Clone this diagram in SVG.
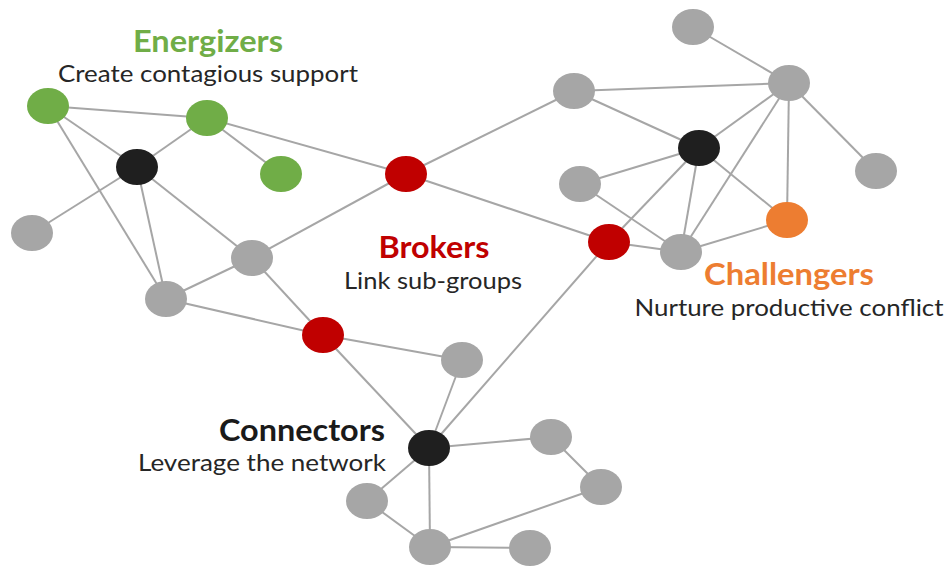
<svg xmlns="http://www.w3.org/2000/svg" width="948" height="566" viewBox="0 0 948 566">
<style>
.e{stroke:#a6a6a6;stroke-width:2;fill:none}
.n{stroke:none}
.g{fill:#a6a6a6}
.gr{fill:#70ad47}
.rd{fill:#c00000}
.or{fill:#ed7d31}
.bk{fill:#1f1f1f}
.h{font-family:Lato,"Open Sans","Liberation Sans",sans-serif;font-weight:bold;font-size:30px}
.s{font-family:Lato,"Open Sans","Liberation Sans",sans-serif;font-size:24px;fill:#262626}
</style>
<rect width="948" height="566" fill="#ffffff"/>
<g id="connectors" class="e">
<line x1="48" y1="106" x2="207" y2="118"/>
<line x1="48" y1="106" x2="137" y2="167"/>
<line x1="48" y1="106" x2="166" y2="299"/>
<line x1="207" y1="118" x2="137" y2="167"/>
<line x1="207" y1="118" x2="281" y2="174"/>
<line x1="207" y1="118" x2="406" y2="174"/>
<line x1="137" y1="167" x2="32" y2="233"/>
<line x1="137" y1="167" x2="166" y2="299"/>
<line x1="137" y1="167" x2="252" y2="258"/>
<line x1="252" y1="258" x2="166" y2="299"/>
<line x1="252" y1="258" x2="406" y2="174"/>
<line x1="252" y1="258" x2="323" y2="335"/>
<line x1="166" y1="299" x2="323" y2="335"/>
<line x1="406" y1="174" x2="574" y2="91"/>
<line x1="406" y1="174" x2="609" y2="242"/>
<line x1="323" y1="335" x2="462" y2="360"/>
<line x1="323" y1="335" x2="429" y2="448"/>
<line x1="429" y1="448" x2="462" y2="360"/>
<line x1="429" y1="448" x2="609" y2="242"/>
<line x1="429" y1="448" x2="551" y2="437"/>
<line x1="429" y1="448" x2="367" y2="501"/>
<line x1="429" y1="448" x2="430" y2="547"/>
<line x1="551" y1="437" x2="601" y2="487"/>
<line x1="601" y1="487" x2="430" y2="547"/>
<line x1="367" y1="501" x2="430" y2="547"/>
<line x1="430" y1="547" x2="530" y2="548"/>
<line x1="693" y1="27" x2="789" y2="83"/>
<line x1="574" y1="91" x2="789" y2="83"/>
<line x1="574" y1="91" x2="699" y2="148"/>
<line x1="789" y1="83" x2="699" y2="148"/>
<line x1="789" y1="83" x2="876" y2="171"/>
<line x1="789" y1="83" x2="787" y2="220"/>
<line x1="789" y1="83" x2="681" y2="252"/>
<line x1="699" y1="148" x2="580" y2="184"/>
<line x1="699" y1="148" x2="609" y2="242"/>
<line x1="699" y1="148" x2="681" y2="252"/>
<line x1="699" y1="148" x2="787" y2="220"/>
<line x1="580" y1="184" x2="681" y2="252"/>
<line x1="609" y1="242" x2="681" y2="252"/>
<line x1="681" y1="252" x2="787" y2="220"/>
</g>
<g id="energizer1"><ellipse class="n gr" cx="48" cy="106" rx="21" ry="18"/></g>
<g id="energizer2"><ellipse class="n gr" cx="207" cy="118" rx="21" ry="18"/></g>
<g id="energizer3"><ellipse class="n gr" cx="281" cy="174" rx="21" ry="18"/></g>
<g id="hubLeft"><ellipse class="n bk" cx="137" cy="167" rx="21" ry="18"/></g>
<g id="grayLeft"><ellipse class="n g" cx="32" cy="233" rx="21" ry="18"/></g>
<g id="grayMid"><ellipse class="n g" cx="252" cy="258" rx="21" ry="18"/></g>
<g id="grayLow"><ellipse class="n g" cx="166" cy="299" rx="21" ry="18"/></g>
<g id="broker1"><ellipse class="n rd" cx="406" cy="174" rx="21" ry="18"/></g>
<g id="broker2"><ellipse class="n rd" cx="323" cy="335" rx="21" ry="18"/></g>
<g id="broker3"><ellipse class="n rd" cx="609" cy="242" rx="21" ry="18"/></g>
<g id="connector"><ellipse class="n bk" cx="429" cy="448" rx="21" ry="18"/></g>
<g id="gray460"><ellipse class="n g" cx="462" cy="360" rx="21" ry="18"/></g>
<g id="gray551"><ellipse class="n g" cx="551" cy="437" rx="21" ry="18"/></g>
<g id="gray601"><ellipse class="n g" cx="601" cy="487" rx="21" ry="18"/></g>
<g id="gray367"><ellipse class="n g" cx="367" cy="501" rx="21" ry="18"/></g>
<g id="gray430"><ellipse class="n g" cx="430" cy="547" rx="21" ry="18"/></g>
<g id="gray530"><ellipse class="n g" cx="530" cy="548" rx="21" ry="18"/></g>
<g id="grayTop"><ellipse class="n g" cx="693" cy="27" rx="21" ry="18"/></g>
<g id="grayHub"><ellipse class="n g" cx="789" cy="83" rx="21" ry="18"/></g>
<g id="grayTL"><ellipse class="n g" cx="574" cy="91" rx="21" ry="18"/></g>
<g id="hubRight"><ellipse class="n bk" cx="699" cy="148" rx="21" ry="18"/></g>
<g id="grayRight"><ellipse class="n g" cx="876" cy="171" rx="21" ry="18"/></g>
<g id="grayML"><ellipse class="n g" cx="580" cy="184" rx="21" ry="18"/></g>
<g id="challenger"><ellipse class="n or" cx="787" cy="220" rx="21" ry="18"/></g>
<g id="grayBottom"><ellipse class="n g" cx="681" cy="252" rx="21" ry="18"/></g>
<g id="labels">
<text class="h" x="208" y="52" text-anchor="middle" fill="#70ad47" textLength="150" lengthAdjust="spacingAndGlyphs">Energizers</text>
<text class="s" x="208" y="82" text-anchor="middle" textLength="300" lengthAdjust="spacingAndGlyphs">Create contagious support</text>
<text class="h" x="434" y="258" text-anchor="middle" fill="#c00000" textLength="111" lengthAdjust="spacingAndGlyphs">Brokers</text>
<text class="s" x="433" y="289" text-anchor="middle" textLength="178" lengthAdjust="spacingAndGlyphs">Link sub-groups</text>
<text class="h" x="789" y="285" text-anchor="middle" fill="#ed7d31" textLength="170" lengthAdjust="spacingAndGlyphs">Challengers</text>
<text class="s" x="789" y="316" text-anchor="middle" textLength="309" lengthAdjust="spacingAndGlyphs">Nurture productive conflict</text>
<text class="h" x="385" y="441" text-anchor="end" fill="#1a1a1a" textLength="166" lengthAdjust="spacingAndGlyphs">Connectors</text>
<text class="s" x="386" y="471" text-anchor="end" textLength="248" lengthAdjust="spacingAndGlyphs">Leverage the network</text>
</g>
</svg>
